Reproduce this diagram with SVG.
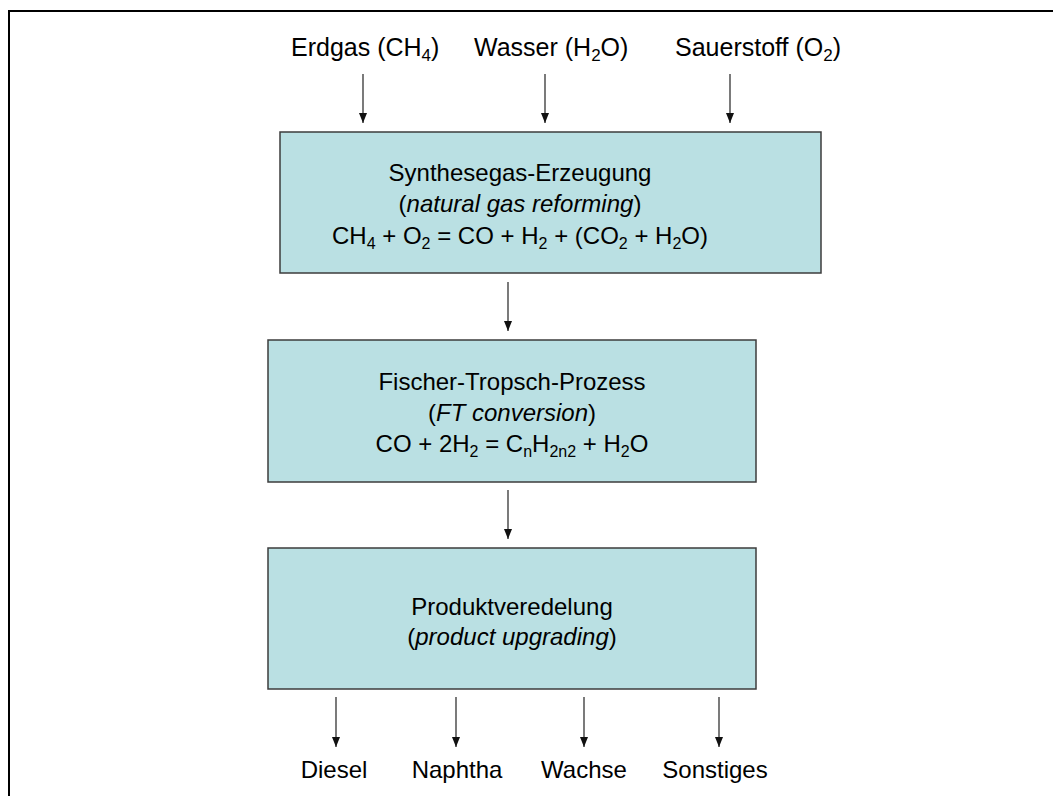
<svg xmlns="http://www.w3.org/2000/svg" width="1053" height="796" viewBox="0 0 1053 796">
<defs>
<style>
text{font-family:"Liberation Sans",Arial,sans-serif;font-size:24px;fill:#000;}
.top{font-size:25px;}
.box{fill:#BAE0E3;stroke:#3c3c3c;stroke-width:1.5;}
.c{text-anchor:middle;}
.i{font-style:italic;}
.conn line{stroke:#333;stroke-width:1.3;}
</style>
<marker id="ah" markerUnits="userSpaceOnUse" markerWidth="10" markerHeight="8" refX="10" refY="4" orient="auto">
<path d="M0,0 L10,4 L0,8 z" fill="#111"/>
</marker>
</defs>
<rect width="1053" height="796" fill="#fff"/>
<rect x="9" y="11" width="1100" height="900" fill="none" stroke="#000" stroke-width="2"/>

<g id="in-erdgas"><text class="top" x="291" y="56">Erdgas (CH<tspan font-size="17" dy="5">4</tspan><tspan dy="-5">)</tspan></text></g>
<g id="in-wasser"><text class="top" x="474" y="56">Wasser (H<tspan font-size="17" dy="5">2</tspan><tspan dy="-5">O)</tspan></text></g>
<g id="in-sauerstoff"><text class="top" x="675" y="56">Sauerstoff (O<tspan font-size="17" dy="5">2</tspan><tspan dy="-5">)</tspan></text></g>

<g id="synthesegas">
<rect class="box" x="280" y="132" width="541" height="141"/>
<text class="c" x="520" y="181">Synthesegas-Erzeugung</text>
<text class="c" x="520" y="212">(<tspan class="i">natural gas reforming</tspan>)</text>
<text class="c" x="520" y="244">CH<tspan font-size="16" dy="5">4</tspan><tspan dy="-5"> + O</tspan><tspan font-size="16" dy="5">2</tspan><tspan dy="-5"> = CO + H</tspan><tspan font-size="16" dy="5">2</tspan><tspan dy="-5"> + (CO</tspan><tspan font-size="16" dy="5">2</tspan><tspan dy="-5"> + H</tspan><tspan font-size="16" dy="5">2</tspan><tspan dy="-5">O)</tspan></text>
</g>

<g id="fischer-tropsch">
<rect class="box" x="268" y="340" width="488" height="142"/>
<text class="c" x="512" y="390">Fischer-Tropsch-Prozess</text>
<text class="c" x="512" y="421">(<tspan class="i">FT conversion</tspan>)</text>
<text class="c" x="512" y="452">CO + 2H<tspan font-size="16" dy="5">2</tspan><tspan dy="-5"> = C</tspan><tspan font-size="16" dy="5">n</tspan><tspan dy="-5">H</tspan><tspan font-size="16" dy="5">2n2</tspan><tspan dy="-5"> + H</tspan><tspan font-size="16" dy="5">2</tspan><tspan dy="-5">O</tspan></text>
</g>

<g id="produktveredelung">
<rect class="box" x="268" y="548" width="488" height="141"/>
<text class="c" x="512" y="615">Produktveredelung</text>
<text class="c" x="512" y="645">(<tspan class="i">product upgrading</tspan>)</text>
</g>

<g id="out-diesel"><text class="c" x="334" y="778">Diesel</text></g>
<g id="out-naphtha"><text class="c" x="457" y="778">Naphtha</text></g>
<g id="out-wachse"><text class="c" x="584" y="778">Wachse</text></g>
<g id="out-sonstiges"><text class="c" x="715" y="778">Sonstiges</text></g>

<g id="connectors" class="conn">
<line x1="363" y1="74" x2="363" y2="123" marker-end="url(#ah)"/>
<line x1="545" y1="74" x2="545" y2="123" marker-end="url(#ah)"/>
<line x1="730" y1="74" x2="730" y2="123" marker-end="url(#ah)"/>
<line x1="508" y1="282" x2="508" y2="331" marker-end="url(#ah)"/>
<line x1="508" y1="490" x2="508" y2="539" marker-end="url(#ah)"/>
<line x1="336" y1="697" x2="336" y2="747" marker-end="url(#ah)"/>
<line x1="456" y1="697" x2="456" y2="747" marker-end="url(#ah)"/>
<line x1="584" y1="697" x2="584" y2="747" marker-end="url(#ah)"/>
<line x1="719" y1="697" x2="719" y2="747" marker-end="url(#ah)"/>
</g>
</svg>
